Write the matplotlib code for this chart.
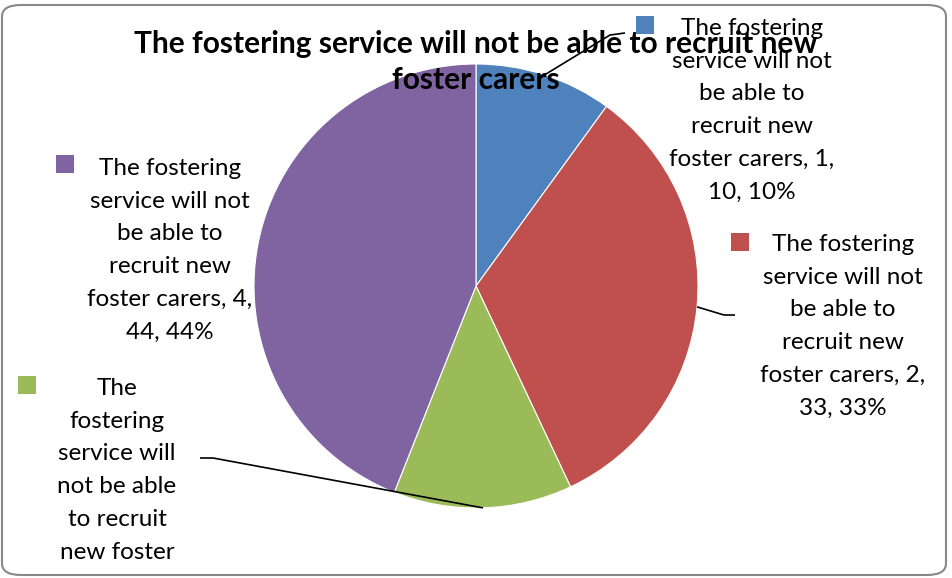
import numpy as np
import matplotlib
matplotlib.use("Agg")
import matplotlib.pyplot as plt
from matplotlib.patches import FancyBboxPatch, Rectangle

# data
labels = ["1", "2", "3", "4"]
values = [10, 33, 13, 44]
colors = ["#4F81BD", "#C0504D", "#9BBB59", "#8064A2"]
title = "The fostering service will not be able to recruit new\nfoster carers"

# label texts as wrapped in the original
label_texts = [
    "The fostering\nservice will not\nbe able to\nrecruit new\nfoster carers, 1,\n10, 10%",
    "The fostering\nservice will not\nbe able to\nrecruit new\nfoster carers, 2,\n33, 33%",
    "The\nfostering\nservice will\nnot be able\nto recruit\nnew foster\ncarers, 3,\n13, 13%",
    "The fostering\nservice will not\nbe able to\nrecruit new\nfoster carers, 4,\n44, 44%",
]

W, H = 952, 578
plt.rcParams["font.family"] = ["Lato", "DejaVu Sans"]

fig = plt.figure(figsize=(W / 100, H / 100), dpi=100)
ax = fig.add_axes([0, 0, 1, 1])

def Y(y):
    return H - y

cx, cy, r = 476, 286, 222
wedges, _ = ax.pie(values, colors=colors, startangle=90, counterclock=False,
                   center=(cx, Y(cy)), radius=r, frame=True,
                   wedgeprops=dict(edgecolor="white", linewidth=0.8))
ax.set_xlim(0, W)
ax.set_ylim(0, H)
ax.set_aspect("equal")
ax.axis("off")

# border
fig.patches.append(FancyBboxPatch((2 / W, 3 / H), 944 / W, 570 / H,
                                  boxstyle="round,pad=0,rounding_size=0.02",
                                  transform=fig.transFigure, fill=False,
                                  edgecolor="#888888", linewidth=1.5))
# chart area: labels running past it are cut off, as in the original
clip = Rectangle((3, Y(567)), 942, 564, transform=ax.transData,
                 fill=False, visible=False)
ax.add_patch(clip)

ax.text(cx, Y(62), title, ha="center", va="center", fontsize=21.5,
        fontweight="bold", linespacing=1.33, zorder=1)

# label placements (text center x, first line center y, marker x, marker y)
text_pos = [(752, 27), (843, 243), (117, 387), (170, 167)]
marker_pos = [(645, 25), (740, 242), (27, 385), (65, 164)]
# leader elbows: (elbow point, end point) or None
leaders = [((610, 35), (625, 33)), ((724, 315), (735, 315)),
           ((213, 458), (200, 458)), None]

for w, txt, (tx, ty), (mx, my), ld, col in zip(wedges, label_texts, text_pos,
                                               marker_pos, leaders, colors):
    ang = np.deg2rad((w.theta1 + w.theta2) / 2)
    if ld is not None:
        sx = cx + r * np.cos(ang)
        sy = Y(cy) + r * np.sin(ang)
        ax.plot([sx, ld[0][0], ld[1][0]], [sy, Y(ld[0][1]), Y(ld[1][1])],
                color="black", lw=1.2, zorder=5, solid_capstyle="butt")
    ax.scatter([mx], [Y(my)], marker="s", s=150, color=col, zorder=6,
               linewidths=0)
    t = ax.text(tx, Y(ty) + 9, txt, ha="center", va="top", fontsize=17.5,
                linespacing=1.69, zorder=6, clip_on=True)
    t.set_clip_path(clip)

fig.savefig("out.png", dpi=100)
